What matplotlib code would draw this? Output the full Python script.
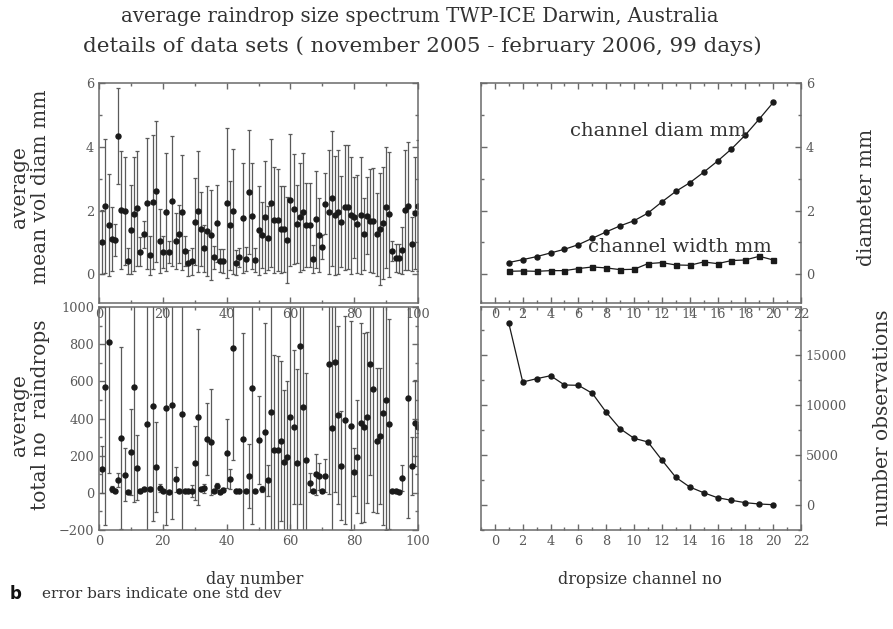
import numpy as np
import matplotlib
matplotlib.use("Agg")
import matplotlib.pyplot as plt
from matplotlib.ticker import MultipleLocator

# ---- data ----
days = np.arange(1, 101)

mvd = [1.02, 2.15, 1.55, 1.10, 1.07, 4.33, 2.02, 1.99, 0.42, 1.40,
       1.89, 2.07, 0.71, 1.26, 2.23, 0.59, 2.26, 2.60, 1.04, 0.70,
       1.95, 0.70, 2.30, 1.05, 1.26, 1.94, 0.73, 0.36, 0.41, 1.65,
       1.98, 1.42, 0.81, 1.36, 1.23, 0.53, 1.60, 0.42, 0.41, 2.23,
       1.54, 1.97, 0.37, 0.53, 1.77, 0.48, 2.58, 1.83, 0.44, 1.38,
       1.23, 1.80, 1.13, 2.24, 1.70, 1.70, 1.41, 1.41, 1.07, 2.33,
       2.04, 1.57, 1.79, 1.96, 1.55, 1.55, 0.48, 1.73, 1.23, 0.86,
       2.22, 1.96, 2.38, 1.85, 1.96, 1.65, 2.10, 2.10, 1.85, 1.79,
       1.57, 1.85, 1.26, 1.84, 1.68, 1.68, 1.25, 1.43, 1.60, 2.10,
       1.88, 0.73, 0.50, 0.50, 0.75, 2.02, 2.15, 0.95, 1.93, 2.15]

mvd_sd = [1.00, 2.10, 1.60, 1.00, 0.50, 1.50, 1.85, 1.70, 0.40, 1.40,
          1.80, 1.80, 0.45, 0.42, 2.05, 0.60, 2.10, 2.20, 1.00, 0.50,
          1.85, 0.35, 2.05, 0.87, 0.90, 1.80, 0.47, 0.40, 0.43, 1.37,
          1.90, 1.15, 0.75, 1.40, 1.40, 0.37, 1.20, 0.36, 0.37, 2.35,
          1.40, 1.97, 0.40, 0.30, 1.73, 0.38, 1.95, 1.65, 0.38, 1.39,
          1.04, 1.76, 1.00, 2.00, 1.67, 1.60, 1.36, 1.35, 1.35, 2.07,
          1.73, 1.23, 1.71, 1.84, 1.32, 1.32, 0.43, 1.52, 1.17, 0.37,
          0.96, 1.94, 2.12, 1.86, 1.94, 1.43, 1.96, 1.94, 1.83, 1.27,
          1.53, 1.83, 1.13, 1.21, 1.62, 1.64, 1.29, 1.75, 1.76, 1.90,
          1.97, 0.32, 0.44, 0.46, 0.74, 1.88, 2.00, 0.84, 1.75, 2.05]

ndrops = [127, 568, 813, 20, 11, 70, 297, 97, 4, 219,
          568, 136, 12, 18, 371, 20, 468, 141, 27, 10,
          455, 7, 471, 73, 12, 425, 8, 8, 10, 160,
          407, 20, 25, 289, 276, 8, 35, 6, 15, 213,
          75, 778, 8, 10, 289, 8, 91, 563, 8, 285,
          22, 330, 68, 434, 231, 229, 280, 165, 195, 407,
          353, 160, 790, 464, 174, 55, 11, 100, 88, 11,
          93, 692, 351, 703, 419, 147, 392, np.nan, 362, 111,
          195, 378, 353, 407, 694, 557, 281, 306, 428, 500,
          369, 11, 8, 7, 79, np.nan, 512, 145, 375, 353]

ndrops_sd = [127, 740, 707, 15, 8, 37, 490, 143, 5, 231,
             620, 176, 6, 8, 700, 12, 620, 242, 20, 6,
             627, 5, 611, 68, 8, 700, 6, 5, 30, 197,
             475, 10, 25, 192, 285, 5, 20, 5, 12, 185,
             52, 600, 5, 6, 573, 5, 171, 730, 5, 236,
             15, 586, 84, 700, 509, 506, 431, 388, 409, 700,
             414, 505, 850, 700, 471, 53, 6, 111, 73, 6,
             89, 700, 700, 700, 480, 291, 560, np.nan, 560, 130,
             305, 538, 508, 460, 600, 660, 389, 367, 600, 700,
             566, 6, 5, 5, 71, np.nan, 650, 158, 230, 30]

channel = np.arange(1, 21)
chan_diam = [0.37, 0.46, 0.555, 0.67, 0.785, 0.93, 1.13, 1.33, 1.52, 1.68,
             1.92, 2.27, 2.60, 2.87, 3.20, 3.55, 3.93, 4.37, 4.87, 5.39]
chan_width = [0.094, 0.105, 0.094, 0.115, 0.115, 0.18, 0.23, 0.20, 0.147, 0.157,
              0.335, 0.367, 0.293, 0.283, 0.387, 0.335, 0.43, 0.45, 0.565, 0.45]
n_obs = [18170, 12300, 12630, 12930, 12000, 11970, 11170, 9270, 7630, 6670,
         6300, 4500, 2770, 1800, 1230, 730, 470, 230, 100, 30]

# ---- figure ----
W, H = 893, 629
fig = plt.figure(figsize=(W / 100, H / 100), dpi=100)
plt.rcParams['font.family'] = 'DejaVu Serif'

txt_col = '#333333'
tick_col = '#5a5a5a'
spine_col = '#6a6a6a'


def box(x0, y0, x1, y1):
    # pixel box (top-left origin) -> figure fraction rect
    return [x0 / W, 1 - y1 / H, (x1 - x0) / W, (y1 - y0) / H]


def style(ax, xmaj, xmin, ymaj, ymin, right_labels=False):
    ax.xaxis.set_major_locator(MultipleLocator(xmaj))
    ax.xaxis.set_minor_locator(MultipleLocator(xmin))
    ax.yaxis.set_major_locator(MultipleLocator(ymaj))
    ax.yaxis.set_minor_locator(MultipleLocator(ymin))
    ax.tick_params(which='both', direction='in', top=True, right=True,
                   colors=spine_col, labelcolor=tick_col, labelsize=9.3, width=1)
    ax.tick_params(which='major', length=4.5)
    ax.tick_params(which='minor', length=2.5)
    if right_labels:
        ax.tick_params(labelleft=False, labelright=True)
    for s in ax.spines.values():
        s.set_color(spine_col)
        s.set_linewidth(1.1)


eb_kw = dict(fmt='o', ms=3.6, color='#1a1a1a', ecolor='#5a5a5a',
             elinewidth=0.9, capsize=1.6, capthick=0.9)

# top left: mean volume diameter
ax1 = fig.add_axes(box(99, 83, 418, 303))
ax1.errorbar(days, mvd, yerr=mvd_sd, **eb_kw)
ax1.set_xlim(0, 100)
ax1.set_ylim(-0.9, 6)
style(ax1, 20, 10, 2, 1)

# bottom left: number of raindrops (transparent so the upper tick labels show)
ax2 = fig.add_axes(box(99, 307, 418, 530))
ax2.patch.set_visible(False)
ax2.errorbar(days, ndrops, yerr=ndrops_sd, **eb_kw)
ax2.set_xlim(0, 100)
ax2.set_ylim(-200, 1000)
style(ax2, 20, 10, 200, 100)

# top right: channel diameters
ax3 = fig.add_axes(box(481, 83, 801, 303))
ax3.plot(channel, chan_diam, '-o', color='#1a1a1a', ms=3.6, lw=0.9)
ax3.plot(channel, chan_width, '-s', color='#1a1a1a', ms=3.6, lw=0.9)
ax3.set_xlim(-1, 22)
ax3.set_ylim(-0.9, 6)
style(ax3, 2, 1, 2, 1, right_labels=True)
ax3.text(5.4, 4.5, 'channel diam mm', fontsize=14, color=txt_col, va='center')
ax3.text(6.7, 0.85, 'channel width mm', fontsize=14, color=txt_col, va='center')

# bottom right: number of observations
ax4 = fig.add_axes(box(481, 307, 801, 530))
ax4.patch.set_visible(False)
ax4.plot(channel, n_obs, '-o', color='#1a1a1a', ms=3.6, lw=0.9)
ax4.set_xlim(-1, 22)
ax4.set_ylim(-2500, 19800)
style(ax4, 2, 1, 5000, 2500, right_labels=True)

# titles and labels
fig.text(420 / W, 1 - 17 / H, 'average raindrop size spectrum TWP-ICE Darwin, Australia',
         ha='center', va='center', fontsize=14.2, color=txt_col)
fig.text(422 / W, 1 - 46 / H, 'details of data sets ( november 2005 - february 2006, 99 days)',
         ha='center', va='center', fontsize=15.4, color=txt_col)

fig.text(30 / W, 1 - 187 / H, 'average\nmean vol diam mm', rotation=90,
         ha='center', va='center', ma='center', fontsize=14.5, color=txt_col,
         linespacing=1.1)
fig.text(30 / W, 1 - 415 / H, 'average\ntotal no  raindrops', rotation=90,
         ha='center', va='center', ma='center', fontsize=14.5, color=txt_col,
         linespacing=1.1)
fig.text(866 / W, 1 - 197 / H, 'diameter mm', rotation=90,
         ha='center', va='center', fontsize=14.5, color=txt_col)
fig.text(883 / W, 1 - 418 / H, 'number observations', rotation=90,
         ha='center', va='center', fontsize=14.5, color=txt_col)

fig.text(255 / W, 1 - 580 / H, 'day number', ha='center', va='center',
         fontsize=11.5, color=txt_col)
fig.text(640 / W, 1 - 580 / H, 'dropsize channel no', ha='center', va='center',
         fontsize=11.5, color=txt_col)

fig.text(10 / W, 1 - 594 / H, 'b', ha='left', va='center', fontsize=12,
         fontweight='bold', family='DejaVu Sans', color='#111111')
fig.text(42 / W, 1 - 594 / H, 'error bars indicate one std dev', ha='left', va='center',
         fontsize=11, color=txt_col)

fig.savefig('out.png', dpi=100)
